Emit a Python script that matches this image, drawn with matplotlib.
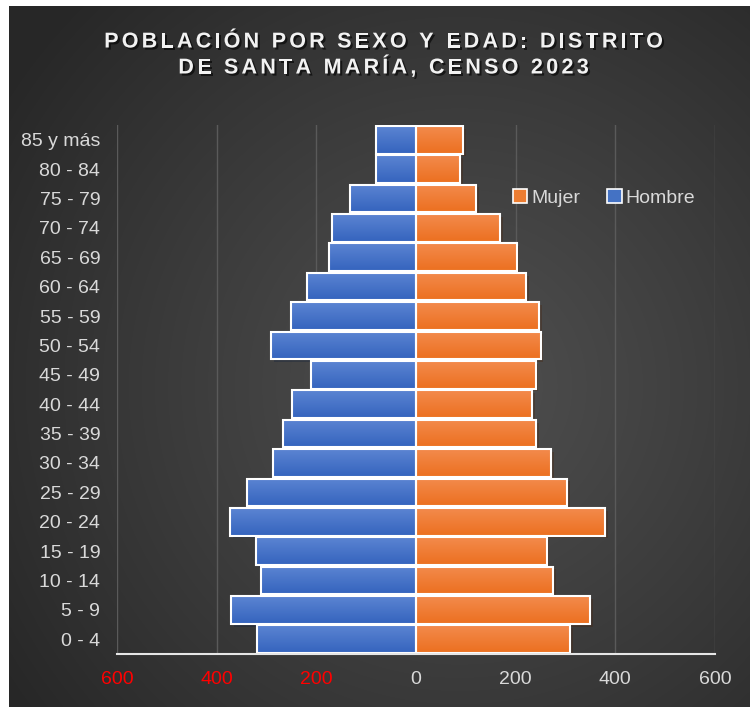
import matplotlib
matplotlib.use('Agg')
import matplotlib.pyplot as plt
import matplotlib.patheffects as pe
from matplotlib.patches import Patch
from matplotlib.font_manager import FontProperties
import numpy as np

plt.rcParams['font.family'] = ['Liberation Sans', 'DejaVu Sans']

# data
grupos = ['0 - 4', '5 - 9', '10 - 14', '15 - 19', '20 - 24', '25 - 29', '30 - 34',
          '35 - 39', '40 - 44', '45 - 49', '50 - 54', '55 - 59', '60 - 64',
          '65 - 69', '70 - 74', '75 - 79', '80 - 84', '85 y más']
hombre = [319, 371, 311, 321, 373, 339, 287, 267, 248, 211, 291, 250, 218, 175, 169, 133, 81, 81]
mujer = [310, 350, 275, 262, 379, 304, 271, 241, 233, 240, 250, 247, 221, 202, 169, 121, 88, 94]
xticks = [-600, -400, -200, 0, 200, 400, 600]

W, H = 750, 707
fig = plt.figure(figsize=(W/100, H/100), dpi=100, facecolor='white')

# radial background
bg = fig.add_axes([9/W, 0, 741/W, 701/H], zorder=-5)
yy, xx = np.mgrid[0:701, 0:741]
r = np.hypot((xx-450)/540., (yy-380)/540.)
r = np.clip(r, 0, 1)
light, dark = 0.31, 0.155
g = light - (light-dark)*r**1.1
bg.imshow(np.dstack([g, g, g]), aspect='auto', interpolation='bilinear')
bg.axis('off')

ax = fig.add_axes([117/W, 1-654/H, 598/W, 529/H])
ax.set_facecolor('none')

y = np.arange(len(grupos))
blue, blue_top, blue_bot = '#4472c4', '#5b84d2', '#3564be'
orange, or_top, or_bot = '#ed7d31', '#f38a4c', '#ec7020'
hb = 0.94

def grad_bars(vals, top, bot, face):
    bars = ax.barh(y, vals, height=hb, color=face, zorder=2,
                   path_effects=[pe.SimplePatchShadow(offset=(2, -2), alpha=0.35), pe.Normal()])
    c1 = np.array(matplotlib.colors.to_rgb(top))
    c2 = np.array(matplotlib.colors.to_rgb(bot))
    t = np.linspace(0, 1, 32)[:, None]
    img = (c1*(1-t) + c2*t)[:, None, :]
    for p in bars.patches:
        x0, y0 = p.get_x(), p.get_y()
        ax.imshow(img, extent=[x0, x0+p.get_width(), y0, y0+p.get_height()],
                  aspect='auto', zorder=2.1, origin='upper', interpolation='bilinear')
    ax.barh(y, vals, height=hb, facecolor='none', edgecolor='white', linewidth=1.5, zorder=3)

grad_bars([-v for v in hombre], blue_top, blue_bot, blue)
grad_bars(mujer, or_top, or_bot, orange)

ax.set_xlim(-600, 600)
ax.set_ylim(-0.5, len(grupos)-0.5)
ax.set_xticks(xticks)
ax.set_xticklabels([str(abs(v)) for v in xticks])
for v, lab in zip(xticks, ax.get_xticklabels()):
    lab.set_color('#ff0000' if v < 0 else '#d9d9d9')
ax.set_yticks(y)
ax.set_yticklabels(grupos, color='#d9d9d9')
ax.tick_params(axis='both', length=0, labelsize=14)
ax.tick_params(axis='x', pad=12)
ax.tick_params(axis='y', pad=12)
ax.grid(axis='x', color='#5a5a5a', linewidth=1, zorder=0)
ax.set_axisbelow(True)
for s in ['top', 'right', 'left']:
    ax.spines[s].set_visible(False)
ax.spines['bottom'].set_color('#e6e6e6')
ax.spines['bottom'].set_linewidth(1.5)
ax.spines['bottom'].set_zorder(4)

handles = [Patch(facecolor=orange, edgecolor='white', linewidth=1.2, label='Mujer'),
           Patch(facecolor=blue, edgecolor='white', linewidth=1.2, label='Hombre')]
ax.legend(handles=handles, ncol=2, loc='center', bbox_to_anchor=(604/W, 1-198/H),
          bbox_transform=fig.transFigure, frameon=False, fontsize=14, labelcolor='#d9d9d9',
          handlelength=0.75, handleheight=0.75, handletextpad=0.2, columnspacing=1.4)

# spaced title, drawn char by char
renderer = fig.canvas.get_renderer()
title_lines = ['POBLACIÓN POR SEXO Y EDAD: DISTRITO', 'DE SANTA MARÍA, CENSO 2023']
fp = FontProperties(family=['Liberation Sans', 'DejaVu Sans'], weight='bold', size=15.5)
spacing = 3.3
shadow = [pe.SimplePatchShadow(offset=(1.5, -1.5), shadow_rgbFace='black', alpha=0.6), pe.Normal()]
for line, yc in zip(title_lines, [42, 68]):
    widths = [renderer.get_text_width_height_descent(ch, fp, ismath=False)[0] for ch in line]
    total = sum(widths) + spacing*(len(line)-1)
    xpos = 383.5 - total/2
    for ch, w in zip(line, widths):
        fig.text(xpos/W, 1-yc/H, ch, fontproperties=fp, color='#f2f2f2',
                 ha='left', va='center', path_effects=shadow)
        xpos += w + spacing

fig.savefig('out.png', dpi=100, facecolor='white')
